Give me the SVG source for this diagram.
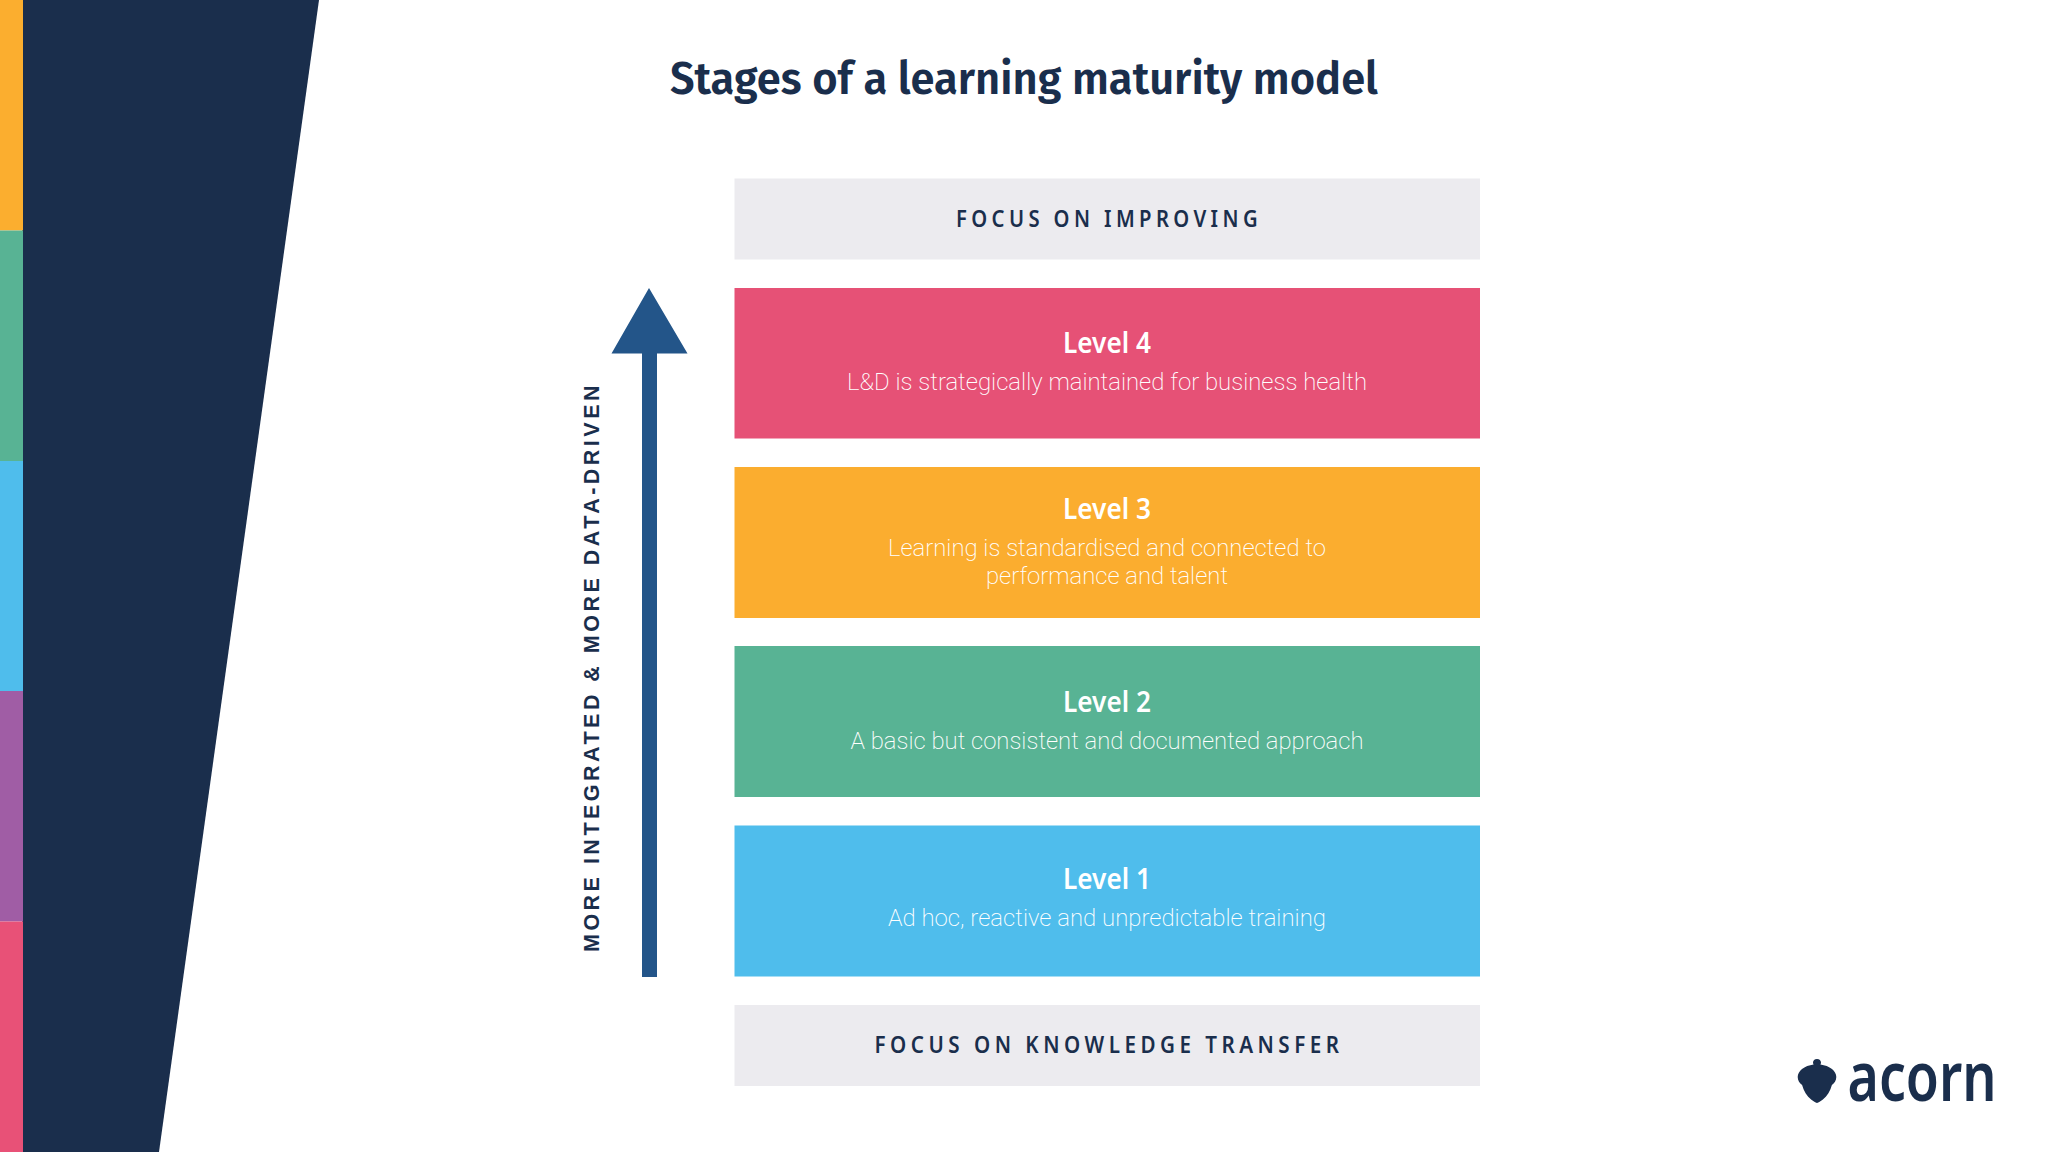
<svg xmlns="http://www.w3.org/2000/svg" width="2048" height="1152" viewBox="0 0 2048 1152">
<style>
text{text-anchor:middle}
.title{font:600 46px "Fira Sans","Noto Sans",sans-serif;fill:#1a2e4c}
.focus{font:600 23px "Noto Sans",sans-serif;fill:#1a2e4c}
.lvl{font:600 28px "Noto Sans",sans-serif;fill:#fff}
.sub{font:200 24px Roboto,sans-serif;fill:#fff}
.side{font:700 21.500px "Liberation Sans",sans-serif;fill:#1a2e4c}
.logo{font:600 69px "Noto Sans",sans-serif;fill:#1a2e4c}
</style>
<rect width="2048" height="1152" fill="#fff"/>
<g id="sidebar">
<polygon points="22,0 319,0 159,1152 22,1152" fill="#1a2e4c"/>
<rect x="0" y="0" width="23" height="230.500" fill="#fbae2f"/>
<rect x="0" y="230.500" width="23" height="230.500" fill="#58b394"/>
<rect x="0" y="461" width="23" height="230" fill="#4fbdec"/>
<rect x="0" y="691" width="23" height="230.500" fill="#a05da5"/>
<rect x="0" y="921.500" width="23" height="230.500" fill="#e85177"/>
</g>
<text id="title" class="title" x="1024" y="94" textLength="708" lengthAdjust="spacingAndGlyphs">Stages of a learning maturity model</text>
<g id="focus-improving"><rect x="734.500" y="178.500" width="745.500" height="81" fill="#ecebef"/><text class="focus" x="1109" y="226.500" textLength="306" lengthAdjust="spacingAndGlyphs" letter-spacing="5">FOCUS ON IMPROVING</text></g>
<g id="level-4"><rect x="734.500" y="288" width="745.500" height="150.500" fill="#e65176"/><text class="lvl" x="1107" y="353" textLength="88" lengthAdjust="spacingAndGlyphs">Level 4</text><text class="sub" x="1107" y="389.500" textLength="520" lengthAdjust="spacingAndGlyphs">L&amp;D is strategically maintained for business health</text></g>
<g id="level-3"><rect x="734.500" y="467" width="745.500" height="151" fill="#fbad2f"/><text class="lvl" x="1107" y="519" textLength="88" lengthAdjust="spacingAndGlyphs">Level 3</text><text class="sub" x="1107" y="556" textLength="438" lengthAdjust="spacingAndGlyphs">Learning is standardised and connected to</text><text class="sub" x="1107" y="584" textLength="242" lengthAdjust="spacingAndGlyphs">performance and talent</text></g>
<g id="level-2"><rect x="734.500" y="646" width="745.500" height="151" fill="#58b394"/><text class="lvl" x="1107" y="712" textLength="88" lengthAdjust="spacingAndGlyphs">Level 2</text><text class="sub" x="1107" y="749" textLength="513" lengthAdjust="spacingAndGlyphs">A basic but consistent and documented approach</text></g>
<g id="level-1"><rect x="734.500" y="825.500" width="745.500" height="151" fill="#4fbdec"/><text class="lvl" x="1107" y="889" textLength="88" lengthAdjust="spacingAndGlyphs">Level 1</text><text class="sub" x="1107" y="926" textLength="438" lengthAdjust="spacingAndGlyphs">Ad hoc, reactive and unpredictable training</text></g>
<g id="focus-knowledge"><rect x="734.500" y="1005" width="745.500" height="81" fill="#ecebef"/><text class="focus" x="1109" y="1053" textLength="469" lengthAdjust="spacingAndGlyphs" letter-spacing="5">FOCUS ON KNOWLEDGE TRANSFER</text></g>
<g id="connectors">
<polygon points="649,288 687.500,353.500 657,353.500 657,977 642,977 642,353.500 611.500,353.500" fill="#235589"/>
</g>
<text id="axis-label" class="side" transform="translate(598.500,667) rotate(-90)" textLength="570" letter-spacing="3.500">MORE INTEGRATED &amp; MORE DATA-DRIVEN</text>
<g id="logo">
<path d="M1817 1059c2.500 0 4 1.600 4 3.500 0 .8-.2 1.400-.6 2 4.500.6 8.600 2.200 11.600 4.600 2.600 2 4.300 5 4.300 8 0 3.500-2 6.200-4.400 7.900-1.600 5.800-4.600 11-9.300 14.700-2 1.600-4 2.800-5.600 3.300-1.600-.5-3.600-1.700-5.600-3.300-4.700-3.700-7.700-8.900-9.300-14.700-2.400-1.700-4.400-4.400-4.400-7.900 0-3 1.700-6 4.300-8 3-2.400 7.100-4 11.600-4.600-.4-.6-.6-1.200-.6-2 0-1.900 1.500-3.500 4-3.500z" fill="#1a2e4c"/>
<text class="logo" x="1922" y="1100.500" textLength="149" lengthAdjust="spacingAndGlyphs">acorn</text>
</g>
</svg>
